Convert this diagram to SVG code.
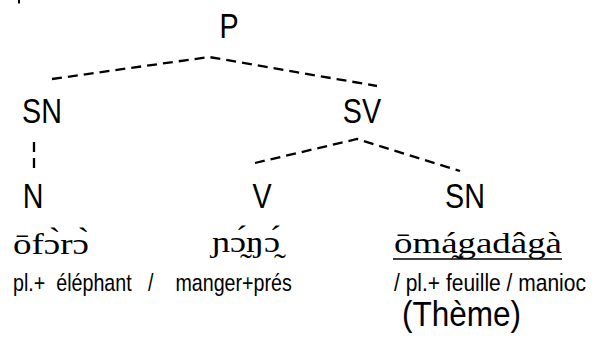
<svg xmlns="http://www.w3.org/2000/svg" width="598" height="339" viewBox="0 0 598 339">
<style>
.lab{font-family:"Liberation Sans Narrow","Arial Narrow","Liberation Sans",sans-serif;font-size:35px;fill:#000;text-anchor:middle}
.ph{font-family:"Liberation Serif","DejaVu Serif",serif;font-size:30px;fill:#000}
.gl{font-family:"Liberation Sans Narrow","Arial Narrow","Liberation Sans",sans-serif;font-size:24px;fill:#000}
.th{font-family:"Liberation Sans Narrow","Arial Narrow","Liberation Sans",sans-serif;font-size:35px;fill:#000}
.dash{fill:none;stroke:#000;stroke-width:2.3;stroke-dasharray:10 6}
</style>
<rect x="18" y="0" width="2" height="3.5" fill="#000"/>
<g id="connectors">
<polyline class="dash" points="52,79 209,57 377,86"/>
<line class="dash" x1="34" y1="142" x2="34" y2="170"/>
<polyline class="dash" points="255,163 357,139 460,171"/>
</g>
<g id="P"><text class="lab" transform="translate(229,38) scale(0.82,1)">P</text></g>
<g id="SN1"><text class="lab" transform="translate(42,123) scale(0.82,1)">SN</text></g>
<g id="SV"><text class="lab" transform="translate(362,123) scale(0.82,1)">SV</text></g>
<g id="N"><text class="lab" transform="translate(33,208) scale(0.82,1)">N</text></g>
<g id="V"><text class="lab" transform="translate(262,208) scale(0.82,1)">V</text></g>
<g id="SN2"><text class="lab" transform="translate(465,208) scale(0.82,1)">SN</text></g>
<g id="words">
<text class="ph" x="13" y="254" textLength="76" lengthAdjust="spacingAndGlyphs">ōfɔ̀rɔ̀</text>
<text class="ph" x="212" y="252" textLength="68" lengthAdjust="spacingAndGlyphs">ɲɔ̰́ŋɔ̰́</text>
<text class="ph" x="394" y="253" textLength="168" lengthAdjust="spacingAndGlyphs">ōmá̰gadâgà</text>
<line x1="393" y1="259" x2="562" y2="259" stroke="#000" stroke-width="1.5"/>
</g>
<g id="glosses">
<text class="gl" xml:space="preserve" transform="translate(13,291) scale(0.82,1)">pl.+  éléphant   /    manger+prés</text>
<text class="gl" transform="translate(394,291) scale(0.82,1)" textLength="234" lengthAdjust="spacingAndGlyphs">/ pl.+ feuille / manioc</text>
<text class="th" transform="translate(402,326) scale(0.9,1)">(Thème)</text>
</g>
</svg>
